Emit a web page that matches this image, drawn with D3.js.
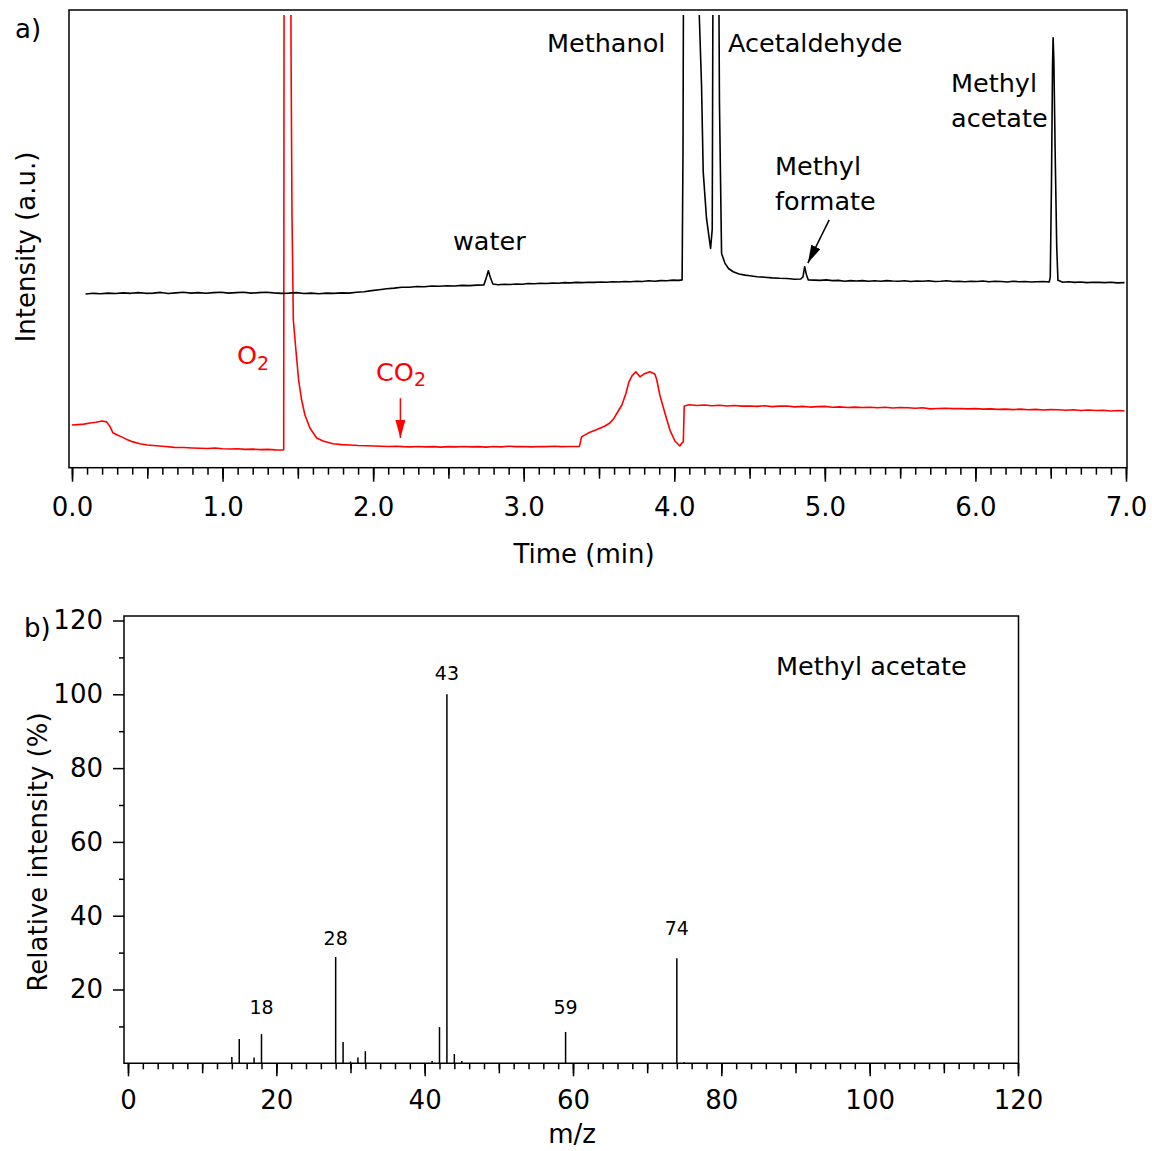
<!DOCTYPE html>
<html>
<head>
<meta charset="utf-8">
<script src="https://cdn.jsdelivr.net/npm/d3@7"></script>
<style>
    body { margin: 0; background: #fff; }
    svg { font-family: "DejaVu Sans", sans-serif; }
    .frame { fill: none; stroke: #000; stroke-width: 1.5px; }
    .tick line { stroke: #000; stroke-width: 1.5px; }
    .tick text { font-size: 26px; fill: #000; font-family: "DejaVu Sans", sans-serif; }
    .trace { fill: none; stroke-width: 1.6px; stroke-linejoin: round; }
    .label { font-size: 25.5px; }
    .axis-title { font-size: 26px; }
    .peak-label { font-size: 19px; text-anchor: middle; }
    .bar { stroke: #000; stroke-width: 1.5px; }
</style>
</head>
<body>
<svg id="chart" width="1152" height="1151"></svg>
<script>
// ---- a) chromatogram, [time (min), intensity (a.u.)] ----
const blackTrace = [
    [0.09,37.8],[0.14,37.95],[0.19,37.85],[0.24,38.0],[0.29,37.9],[0.34,38.05],[0.39,37.95],[0.44,38.1],
    [0.49,37.95],[0.54,38.0],[0.59,38.15],[0.64,37.9],[0.69,38.05],[0.74,38.2],[0.79,38.0],[0.84,38.1],
    [0.89,37.95],[0.94,38.1],[0.99,38.2],[1.04,38.0],[1.09,38.1],[1.14,38.2],[1.19,38.0],[1.24,38.1],
    [1.29,38.2],[1.34,38.05],[1.39,37.95],[1.44,38.0],[1.49,38.1],[1.54,37.9],[1.59,38.0],[1.64,37.85],
    [1.69,38.0],[1.74,37.95],[1.79,38.05],[1.84,38.0],[1.89,38.2],[1.94,38.3],[1.99,38.55],[2.04,38.75],
    [2.09,38.95],[2.14,39.1],[2.19,39.3],[2.24,39.3],[2.29,39.45],[2.34,39.4],[2.39,39.55],[2.44,39.5],
    [2.49,39.6],[2.54,39.55],[2.59,39.7],[2.64,39.65],[2.69,39.75],[2.735,39.8],[2.752,41.4],[2.765,42.9],
    [2.778,41.5],[2.795,40.0],[2.83,39.85],[2.87,39.95],[2.91,39.9],[2.95,40.0],[2.99,39.95],[3.03,40.1],
    [3.07,40.05],[3.11,40.15],[3.15,40.1],[3.19,40.2],[3.23,40.15],[3.27,40.3],[3.31,40.25],[3.35,40.35],
    [3.39,40.3],[3.43,40.4],[3.47,40.35],[3.51,40.45],[3.55,40.4],[3.59,40.5],[3.63,40.45],[3.67,40.55],
    [3.71,40.5],[3.75,40.6],[3.79,40.55],[3.83,40.7],[3.87,40.6],[3.91,40.75],[3.95,40.7],[3.99,40.85],
    [4.03,40.8],[4.052,40.9],[4.058,70],[4.063,130],[4.163,130],[4.166,99],[4.181,83.7],[4.192,64.7],
    [4.214,54.4],[4.241,47.8],[4.252,52],[4.259,130],[4.292,130],[4.3,80],[4.314,46.7],[4.336,44.6],
    [4.36,43.4],[4.391,42.7],[4.43,42.2],[4.47,41.95],[4.502,41.8],[4.55,41.6],[4.6,41.5],[4.65,41.35],
    [4.7,41.25],[4.75,41.2],[4.8,41.05],[4.84,41.1],[4.855,41.6],[4.866,43.8],[4.877,42.1],[4.89,40.9],
    [4.93,40.85],[4.97,40.8],[5.01,40.9],[5.05,40.75],[5.09,40.8],[5.13,40.6],[5.17,40.75],[5.21,40.65],
    [5.25,40.75],[5.29,40.6],[5.33,40.7],[5.37,40.6],[5.41,40.75],[5.45,40.65],[5.49,40.6],[5.53,40.7],
    [5.57,40.55],[5.61,40.65],[5.65,40.6],[5.69,40.7],[5.73,40.55],[5.77,40.6],[5.81,40.7],[5.85,40.55],
    [5.89,40.6],[5.93,40.5],[5.97,40.6],[6.01,40.55],[6.05,40.65],[6.09,40.5],[6.13,40.6],[6.17,40.55],
    [6.21,40.45],[6.25,40.6],[6.29,40.5],[6.33,40.55],[6.37,40.45],[6.41,40.5],[6.45,40.55],[6.49,40.45],
    [6.497,41.5],[6.505,62],[6.512,88],[6.516,94.1],[6.521,89],[6.53,68],[6.54,48],[6.548,40.8],
    [6.58,40.4],[6.62,40.5],[6.66,40.35],[6.70,40.45],[6.74,40.3],[6.78,40.4],[6.82,40.35],[6.86,40.3],
    [6.90,40.4],[6.94,40.25],[6.99,40.3]
];

const redTrace = [
    [0.0,9.0],[0.04,9.1],[0.08,9.2],[0.12,9.45],[0.16,9.6],[0.2,9.9],[0.23,9.7],[0.25,8.8],
    [0.272,7.3],[0.3,6.8],[0.33,6.4],[0.36,5.9],[0.405,5.3],[0.45,4.9],[0.5,4.6],[0.56,4.45],
    [0.62,4.3],[0.68,4.1],[0.74,4.05],[0.8,3.95],[0.85,3.9],[0.9,3.85],[0.95,3.95],[1.0,3.8],
    [1.05,3.75],[1.1,3.8],[1.15,3.65],[1.2,3.7],[1.25,3.6],[1.3,3.65],[1.35,3.55],[1.4,3.5],
    [1.406,3.6],[1.409,130],[1.451,130],[1.455,90],[1.461,55.5],[1.47,32.1],[1.487,25.5],[1.505,18.9],
    [1.525,14.5],[1.547,11.2],[1.58,8.35],[1.625,6.15],[1.667,5.5],[1.733,4.9],[1.79,4.7],[1.846,4.6],
    [1.9,4.5],[1.95,4.45],[2.0,4.4],[2.05,4.35],[2.1,4.3],[2.15,4.35],[2.2,4.25],[2.25,4.2],
    [2.3,4.3],[2.35,4.2],[2.4,4.25],[2.45,4.15],[2.5,4.25],[2.55,4.2],[2.6,4.3],[2.65,4.2],
    [2.7,4.25],[2.75,4.15],[2.8,4.3],[2.85,4.2],[2.9,4.35],[2.95,4.25],[3.0,4.3],[3.05,4.2],
    [3.1,4.3],[3.15,4.25],[3.2,4.35],[3.25,4.25],[3.3,4.3],[3.37,4.3],[3.384,6.4],[3.41,6.9],
    [3.44,7.4],[3.47,7.8],[3.506,8.3],[3.54,8.8],[3.572,9.45],[3.6,10.5],[3.619,11.6],[3.652,13.4],
    [3.679,16.0],[3.699,18.5],[3.719,19.8],[3.745,20.7],[3.772,19.6],[3.798,20.2],[3.838,20.7],[3.871,20.2],
    [3.884,18.9],[3.904,15.6],[3.938,11.6],[3.971,7.9],[4.004,5.5],[4.037,4.4],[4.05,5.05],[4.06,5.3],
    [4.066,13.2],[4.1,13.45],[4.15,13.3],[4.2,13.4],[4.25,13.25],[4.3,13.35],[4.35,13.2],[4.4,13.3],
    [4.45,13.15],[4.5,13.2],[4.55,13.1],[4.6,13.25],[4.65,13.05],[4.7,13.15],[4.75,13.2],[4.8,13.0],
    [4.85,13.1],[4.9,12.95],[4.95,13.05],[5.0,13.1],[5.05,12.9],[5.1,13.0],[5.15,12.85],[5.2,12.95],
    [5.25,12.85],[5.3,12.9],[5.35,12.8],[5.4,12.9],[5.45,12.75],[5.5,12.85],[5.55,12.8],[5.6,12.7],
    [5.65,12.8],[5.7,12.55],[5.75,12.65],[5.8,12.7],[5.85,12.6],[5.9,12.65],[5.95,12.55],[6.0,12.6],
    [6.05,12.5],[6.1,12.55],[6.15,12.45],[6.2,12.5],[6.25,12.4],[6.3,12.5],[6.35,12.35],[6.4,12.45],
    [6.45,12.3],[6.5,12.4],[6.55,12.35],[6.6,12.25],[6.65,12.35],[6.7,12.2],[6.75,12.3],[6.8,12.2],
    [6.85,12.25],[6.9,12.1],[6.95,12.2],[6.99,12.1]
];

const timeTicks = [0, 1, 2, 3, 4, 5, 6, 7];

// ---- b) mass spectrum of methyl acetate ----
const mzValues    = [14, 15, 17, 18, 28, 29, 30, 31, 32, 41, 42, 43, 44, 45, 59, 74, 75];
const mzIntensity = [1.7, 6.6, 1.6, 7.9, 28.8, 5.8, 0.5, 1.6, 3.3, 0.6, 9.8, 100, 2.5, 0.6, 8.5, 28.5, 0.3];
const labeledMz   = [18, 28, 43, 59, 74];
const labeledAt   = [13.4, 32.1, 103.9, 13.4, 34.8];
const mzTicks = [0, 20, 40, 60, 80, 100, 120];
const relTicks = [20, 40, 60, 80, 100, 120];

const svg = d3.select("#chart");
svg.append("rect").attr("width", 1152).attr("height", 1151).attr("fill", "#fff");

function addAxis(g, axis) {
    g.call(axis);
    g.select(".domain").remove();
}

// ================= panel a =================
const xT = d3.scaleLinear().domain([0, 7]).range([72, 1126]);
const yT = d3.scaleLinear().domain([0, 100]).range([466, 11]);
const boxA = { left: 69, right: 1127, top: 10, bottom: 467.7 };

svg.append("defs").append("clipPath").attr("id", "clipA")
    .append("rect")
    .attr("x", boxA.left).attr("y", 15)
    .attr("width", boxA.right - boxA.left).attr("height", boxA.bottom - 15);

const defs = svg.select("defs");
[["headBlack", "#000"], ["headRed", "#f00"]].forEach(([id, col]) => {
    defs.append("marker")
        .attr("id", id)
        .attr("viewBox", "0 -5 18 10")
        .attr("refX", 18).attr("refY", 0)
        .attr("markerWidth", 18).attr("markerHeight", 10)
        .attr("markerUnits", "userSpaceOnUse")
        .attr("orient", "auto")
        .append("path").attr("d", "M0,-5L18,0L0,5Z").attr("fill", col);
});

const gxT = svg.append("g").attr("transform", `translate(0,${boxA.bottom})`);
addAxis(gxT.append("g"), d3.axisBottom(xT).tickValues(d3.range(0, 70.5, 1).map(d => d / 10)).tickSize(7).tickFormat(""));
addAxis(gxT.append("g"), d3.axisBottom(xT).tickValues(d3.range(0, 15).map(d => d / 2)).tickSize(11).tickFormat(""));
addAxis(gxT.append("g"), d3.axisBottom(xT).tickValues(timeTicks).tickSize(14).tickPadding(16).tickFormat(d3.format(".1f")));

const lineT = d3.line().x(d => xT(d[0])).y(d => yT(d[1]));
const traces = svg.append("g").attr("clip-path", "url(#clipA)");
traces.append("path").datum(redTrace).attr("class", "trace").attr("stroke", "#f00").attr("d", lineT);
traces.append("path").datum(blackTrace).attr("class", "trace").attr("stroke", "#000").attr("d", lineT);

svg.append("rect").attr("class", "frame")
    .attr("x", boxA.left).attr("y", boxA.top)
    .attr("width", boxA.right - boxA.left).attr("height", boxA.bottom - boxA.top);

svg.append("text").attr("class", "axis-title").attr("x", 584).attr("y", 563)
    .attr("text-anchor", "middle").text("Time (min)");
svg.append("text").attr("class", "axis-title")
    .attr("transform", "translate(35,247) rotate(-90)")
    .attr("text-anchor", "middle").text("Intensity (a.u.)");
svg.append("text").attr("class", "axis-title").attr("x", 15).attr("y", 38).text("a)");

const labelsA = [
    ["Methanol", 547, 52], ["Acetaldehyde", 728, 52],
    ["Methyl", 951, 92], ["acetate", 951, 127],
    ["Methyl", 775, 175], ["formate", 775, 210],
    ["water", 453, 250]
];
labelsA.forEach(([t, x, y]) => {
    svg.append("text").attr("class", "label").attr("x", x).attr("y", y).text(t);
});

const o2 = svg.append("text").attr("class", "label").attr("fill", "#f00").attr("x", 237).attr("y", 364).text("O");
o2.append("tspan").attr("font-size", 19).attr("dy", 6).text("2");
const co2 = svg.append("text").attr("class", "label").attr("fill", "#f00").attr("x", 376).attr("y", 381).text("CO");
co2.append("tspan").attr("font-size", 19).attr("dy", 5).text("2");

// arrows pointing at methyl formate and CO2
svg.append("line")
    .attr("x1", xT(5.029)).attr("y1", yT(54.1)).attr("x2", xT(4.887)).attr("y2", yT(44.6))
    .attr("stroke", "#000").attr("stroke-width", 1.5).attr("marker-end", "url(#headBlack)");
svg.append("line")
    .attr("x1", xT(2.181)).attr("y1", yT(14.9)).attr("x2", xT(2.181)).attr("y2", yT(6.15))
    .attr("stroke", "#f00").attr("stroke-width", 1.5).attr("marker-end", "url(#headRed)");

// ================= panel b =================
const xB = d3.scaleLinear().domain([0, 120]).range([128, 1018]);
const yB = d3.scaleLinear().domain([0, 120]).range([1063.3, 620.5]);
const boxB = { left: 124, right: 1018.5, top: 616, bottom: 1063.3 };

const gxB = svg.append("g").attr("transform", `translate(0,${boxB.bottom})`);
addAxis(gxB.append("g"), d3.axisBottom(xB).tickValues(d3.range(0, 121, 2)).tickSize(6).tickFormat(""));
addAxis(gxB.append("g"), d3.axisBottom(xB).tickValues(d3.range(0, 121, 10)).tickSize(10).tickFormat(""));
addAxis(gxB.append("g"), d3.axisBottom(xB).tickValues(mzTicks).tickSize(13).tickPadding(14).tickFormat(d3.format("d")));

const gyB = svg.append("g").attr("transform", `translate(${boxB.left},0)`);
addAxis(gyB.append("g"), d3.axisLeft(yB).tickValues(d3.range(10, 121, 20)).tickSize(5).tickFormat(""));
addAxis(gyB.append("g"), d3.axisLeft(yB).tickValues(relTicks).tickSize(11).tickPadding(10).tickFormat(d3.format("d")));

svg.append("g").selectAll("line")
    .data(mzValues.map((m, i) => [m, mzIntensity[i]]))
    .join("line")
    .attr("class", "bar")
    .attr("x1", d => xB(d[0])).attr("x2", d => xB(d[0]))
    .attr("y1", yB(0)).attr("y2", d => yB(d[1]));

svg.append("g").selectAll("text")
    .data(labeledMz.map((m, i) => [m, labeledAt[i]]))
    .join("text")
    .attr("class", "peak-label")
    .attr("x", d => xB(d[0])).attr("y", d => yB(d[1]))
    .text(d => d[0]);

svg.append("path").attr("class", "frame")
    .attr("d", `M${boxB.left},${boxB.bottom}V${boxB.top}H${boxB.right}V${boxB.bottom}Z`);

svg.append("text").attr("class", "axis-title").attr("x", 572).attr("y", 1143)
    .attr("text-anchor", "middle").text("m/z");
svg.append("text").attr("class", "axis-title")
    .attr("transform", "translate(47,852) rotate(-90)")
    .attr("text-anchor", "middle").text("Relative intensity (%)");
svg.append("text").attr("class", "axis-title").attr("x", 24).attr("y", 637).text("b)");
svg.append("text").attr("class", "label").attr("x", 776).attr("y", 675).text("Methyl acetate");
</script>
</body>
</html>
